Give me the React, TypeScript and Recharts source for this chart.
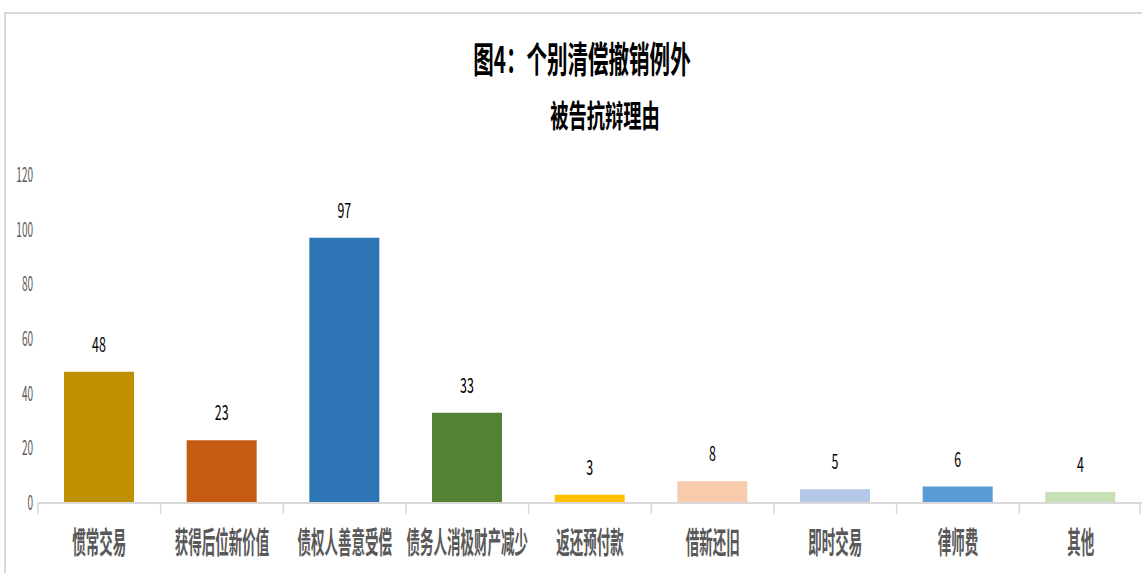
import { Bar, BarChart, Cell, LabelList, XAxis, YAxis } from "recharts";

const categories = [
  "惯常交易",
  "获得后位新价值",
  "债权人善意受偿",
  "债务人消极财产减少",
  "返还预付款",
  "借新还旧",
  "即时交易",
  "律师费",
  "其他",
];
const counts = [48, 23, 97, 33, 3, 8, 5, 6, 4];
const barColors = [
  "#BF9000",
  "#C55A11",
  "#2E75B6",
  "#548235",
  "#FFC000",
  "#F8CBAD",
  "#B4C7E7",
  "#5B9BD5",
  "#C5E0B4",
];
const yTicks = [0, 20, 40, 60, 80, 100, 120];
const title = "图4：个别清偿撤销例外";
const subtitle = "被告抗辩理由";

const data = categories.map((name, i) => ({ name, value: counts[i] }));

const WIDTH = 1142;
const HEIGHT = 573;
const Y_AXIS_W = 38;
const X_AXIS_H = 70;
const MARGIN = { top: 175, right: 0, left: 0, bottom: 0 };
const BAND = (WIDTH - Y_AXIS_W - MARGIN.right) / categories.length;
const FONT = "'Noto Sans CJK SC', 'Noto Sans', sans-serif";

function XTick(props: any) {
  const { x, y, payload, index } = props;
  const half = BAND / 2;
  return (
    <g>
      <line x1={x - half} y1={y} x2={x - half} y2={y + 11} stroke="#d9d9d9" strokeWidth={1.5} />
      {index === categories.length - 1 && (
        <line x1={x + half - 2} y1={y} x2={x + half - 2} y2={y + 11} stroke="#d9d9d9" strokeWidth={1.5} />
      )}
      <g transform={`translate(${x},${y + 50}) scale(0.45,1)`}>
        <text textAnchor="middle" fontSize={30} fontWeight={700} fill="#595959" fontFamily={FONT}>
          {payload.value}
        </text>
      </g>
    </g>
  );
}

function YTick(props: any) {
  const { x, y, payload } = props;
  return (
    <g transform={`translate(${x},${y + 7}) scale(0.5,1)`}>
      <text textAnchor="end" fontSize={20} fill="#595959" fontFamily={FONT}>
        {payload.value}
      </text>
    </g>
  );
}

function ValueLabel(props: any) {
  const { x, y, width, value } = props;
  return (
    <g transform={`translate(${x + width / 2},${y - 20}) scale(0.62,1)`}>
      <text textAnchor="middle" fontSize={20} fill="#000" fontFamily={FONT}>
        {value}
      </text>
    </g>
  );
}

export default function App() {
  return (
    <div style={{ position: "absolute", left: 0, top: 0, width: WIDTH, height: HEIGHT, background: "#fff" }}>
      <div
        style={{
          position: "absolute",
          left: 4,
          top: 12,
          right: 0,
          bottom: 0,
          borderTop: "2px solid #d9d9d9",
          borderLeft: "2px solid #d9d9d9",
        }}
      />
      <div
        style={{
          position: "absolute",
          left: 0,
          width: WIDTH,
          top: 33,
          textAlign: "center",
          fontFamily: FONT,
          fontSize: 36,
          fontWeight: 700,
          color: "#000",
          transform: "translateX(11px) scaleX(0.57)",
          lineHeight: "48px",
        }}
      >
        {title}
      </div>
      <div
        style={{
          position: "absolute",
          left: 0,
          width: WIDTH,
          top: 93,
          textAlign: "center",
          fontFamily: FONT,
          fontSize: 31,
          fontWeight: 700,
          color: "#000",
          transform: "translateX(34px) scaleX(0.59)",
          lineHeight: "42px",
        }}
      >
        {subtitle}
      </div>
      <div style={{ position: "absolute", left: 0, top: 0 }}>
        <BarChart width={WIDTH} height={HEIGHT} data={data} margin={MARGIN}>
          <XAxis
            dataKey="name"
            axisLine={{ stroke: "#d9d9d9", strokeWidth: 2 }}
            tickLine={false}
            tick={<XTick />}
            interval={0}
            height={X_AXIS_H}
            tickMargin={0}
            tickSize={0}
          />
          <YAxis
            domain={[0, 120]}
            ticks={yTicks}
            axisLine={false}
            tickLine={false}
            tick={<YTick />}
            width={Y_AXIS_W}
            tickSize={0}
            tickMargin={5}
            interval={0}
          />
          <Bar dataKey="value" barSize={70} isAnimationActive={false}>
            {data.map((d, i) => (
              <Cell key={d.name} fill={barColors[i]} />
            ))}
            <LabelList dataKey="value" content={<ValueLabel />} />
          </Bar>
        </BarChart>
      </div>
    </div>
  );
}
